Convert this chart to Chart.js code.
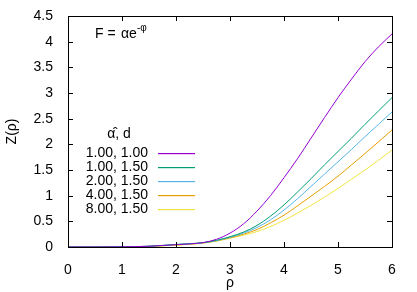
<!DOCTYPE html>
<html>
<head>
<meta charset="utf-8">
<script src="https://cdn.jsdelivr.net/npm/chart.js@4"></script>
<style>
  html, body { margin: 0; padding: 0; background: #fff; }
  #wrap { width: 417px; height: 292px; }
</style>
</head>
<body>
<div id="wrap"><canvas id="zChart"></canvas></div>
<script>
const rho = [0, 0.5, 1, 1.5, 2, 2.25, 2.5, 2.75, 3, 3.25, 3.5, 3.75, 4, 4.25, 4.5, 4.75, 5, 5.25, 5.5, 5.75, 6];

const seriesLabels = ['1.00, 1.00', '1.00, 1.50', '2.00, 1.50', '4.00, 1.50', '8.00, 1.50'];
const z1 = [0, 0, 0.003, 0.015, 0.045, 0.06, 0.085, 0.15, 0.27, 0.45, 0.70, 1.0, 1.35, 1.72, 2.12, 2.52, 2.91, 3.27, 3.61, 3.90, 4.15];
const z2 = [0, 0, 0.003, 0.015, 0.05, 0.065, 0.085, 0.13, 0.2, 0.29, 0.42, 0.6, 0.82, 1.07, 1.33, 1.6, 1.86, 2.12, 2.39, 2.65, 2.91];
const z3 = [0, 0, 0.003, 0.014, 0.048, 0.062, 0.083, 0.125, 0.19, 0.27, 0.38, 0.53, 0.72, 0.94, 1.18, 1.42, 1.66, 1.9, 2.15, 2.39, 2.63];
const z4 = [0, 0, 0.002, 0.012, 0.04, 0.055, 0.08, 0.12, 0.18, 0.25, 0.34, 0.47, 0.62, 0.8, 0.99, 1.18, 1.38, 1.6, 1.82, 2.05, 2.28];
const z5 = [0, 0, 0.002, 0.01, 0.035, 0.05, 0.075, 0.115, 0.17, 0.23, 0.3, 0.4, 0.52, 0.66, 0.81, 0.97, 1.14, 1.32, 1.5, 1.69, 1.89];
const seriesColors = ['#9400d3', '#009e73', '#56b4e9', '#e69f00', '#f0e442'];

const xTicks = [0, 1, 2, 3, 4, 5, 6];
const yTicks = [0, 0.5, 1, 1.5, 2, 2.5, 3, 3.5, 4, 4.5];

const FONT = 'Liberation Sans, Arial, sans-serif';
const FSIZE = 14;

const allSeries = [z1, z2, z3, z4, z5];
const datasets = allSeries.map((vals, i) => ({
  label: seriesLabels[i],
  data: rho.map((x, j) => ({ x: x, y: vals[j] })),
  borderColor: seriesColors[i],
  borderWidth: 1,
  pointRadius: 0,
  fill: false,
  cubicInterpolationMode: 'monotone'
}));

// frame, inward ticks on all four sides, legend and formula
const gnuplotBits = {
  id: 'gnuplotBits',
  afterDatasetsDraw(chart) {
    const ctx = chart.ctx;
    const a = chart.chartArea;
    const xs = chart.scales.x, ys = chart.scales.y;
    const tl = 5;
    ctx.save();
    ctx.strokeStyle = '#000';
    ctx.lineWidth = 1;
    ctx.beginPath();
    xTicks.forEach(v => {
      const px = Math.round(xs.getPixelForValue(v)) + 0.5;
      ctx.moveTo(px, a.bottom); ctx.lineTo(px, a.bottom - tl);
      ctx.moveTo(px, a.top); ctx.lineTo(px, a.top + tl);
    });
    yTicks.forEach(v => {
      const py = Math.round(ys.getPixelForValue(v)) + 0.5;
      ctx.moveTo(a.left, py); ctx.lineTo(a.left + tl, py);
      ctx.moveTo(a.right, py); ctx.lineTo(a.right - tl, py);
    });
    ctx.stroke();
    ctx.strokeRect(Math.round(a.left) + 0.5, Math.round(a.top) + 0.5,
                   Math.round(a.right - a.left), Math.round(a.bottom - a.top));

    // legend
    ctx.font = FSIZE + 'px ' + FONT;
    ctx.fillStyle = '#000';
    ctx.textBaseline = 'middle';
    ctx.textAlign = 'center';
    ctx.fillText('\u03B1\u0302, d', 119, 134);
    ctx.textAlign = 'right';
    seriesLabels.forEach((lab, i) => {
      const y = Math.round(153 + i * 13.9);
      ctx.fillStyle = '#000';
      ctx.fillText(lab, 148, y);
      ctx.fillStyle = seriesColors[i];
      ctx.fillRect(158, y, 37, 1.2);
    });

    // formula
    ctx.fillStyle = '#000';
    ctx.textAlign = 'left';
    ctx.font = FSIZE + 'px ' + FONT;
    ctx.fillText('F = ', 95, 34);
    ctx.fillText('\u03B1e', 121, 34);
    const w = ctx.measureText('\u03B1e').width;
    ctx.font = '10px ' + FONT;
    ctx.fillText('-\u03C6', 121 + w, 28);
    ctx.restore();
  }
};

new Chart(document.getElementById('zChart'), {
  type: 'line',
  data: { datasets: datasets },
  plugins: [gnuplotBits],
  options: {
    responsive: true,
    maintainAspectRatio: false,
    animation: false,
    layout: { padding: { top: 16, right: 25, left: 4, bottom: 0 } },
    plugins: { legend: { display: false }, tooltip: { enabled: false } },
    scales: {
      x: {
        type: 'linear',
        min: 0, max: 6,
        afterBuildTicks: s => { s.ticks = xTicks.map(v => ({ value: v })); },
        afterFit: s => { s.height = 45; },
        grid: { display: false },
        border: { display: false },
        ticks: { color: '#000', font: { family: FONT, size: FSIZE }, padding: 7, maxRotation: 0 },
        title: { display: true, text: '\u03C1', color: '#000', font: { family: FONT, size: FSIZE }, padding: { top: 0, bottom: 0 } }
      },
      y: {
        type: 'linear',
        min: 0, max: 4.5,
        afterBuildTicks: s => { s.ticks = yTicks.map(v => ({ value: v })); },
        afterFit: s => { s.width = 64; },
        grid: { display: false },
        border: { display: false },
        ticks: { color: '#000', font: { family: FONT, size: FSIZE }, padding: 7, callback: v => String(v) },
        title: { display: true, text: 'Z(\u03C1)', color: '#000', font: { family: FONT, size: FSIZE }, padding: { top: 0, bottom: 0 } }
      }
    }
  }
});
</script>
</body>
</html>
